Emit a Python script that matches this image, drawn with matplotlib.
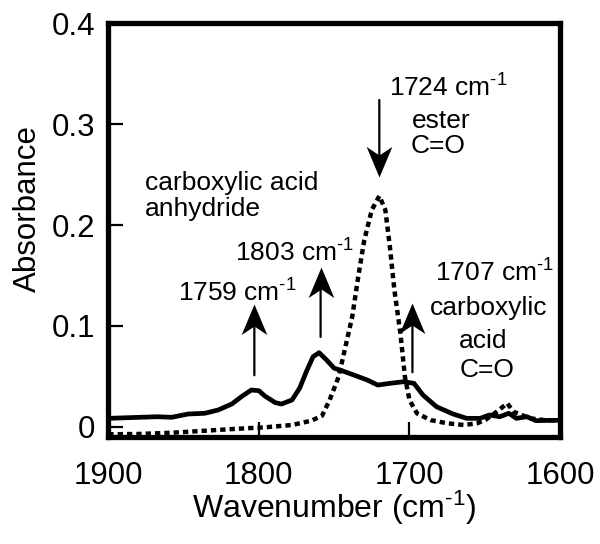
import matplotlib
matplotlib.use("Agg")
import matplotlib.pyplot as plt
import numpy as np
from matplotlib.path import Path

plt.rcParams["font.family"] = ["Liberation Sans", "DejaVu Sans"]
plt.rcParams["mathtext.fontset"] = "custom"
plt.rcParams["mathtext.rm"] = "Liberation Sans"
plt.rcParams["mathtext.it"] = "Liberation Sans:italic"
plt.rcParams["mathtext.bf"] = "Liberation Sans:bold"

# solid spectrum (wavenumber, absorbance)
solid_wn = [1900, 1880, 1867, 1858, 1847, 1836, 1827, 1818, 1811, 1805, 1800,
            1796, 1789, 1785, 1778, 1773, 1768, 1764, 1760, 1755, 1750, 1746,
            1737, 1728, 1721, 1713, 1704, 1697, 1691, 1682, 1671, 1662, 1653,
            1647, 1640, 1634, 1629, 1622, 1616, 1607, 1600]
solid_abs = [0.0083, 0.0093, 0.0099, 0.0093, 0.0126, 0.0133, 0.0166, 0.0225,
             0.0304, 0.0364, 0.0357, 0.0304, 0.0238, 0.0225, 0.0265, 0.0380,
             0.0562, 0.0694, 0.0734, 0.0661, 0.0580, 0.0562, 0.0513, 0.0463,
             0.0413, 0.0430, 0.0446, 0.0430, 0.0314, 0.0198, 0.0126, 0.0083,
             0.0083, 0.0116, 0.0099, 0.0133, 0.0083, 0.0099, 0.0060, 0.0063,
             0.0063]

# dashed spectrum
dash_wn = [1900, 1880, 1858, 1836, 1814, 1796, 1778, 1765, 1758, 1753, 1747,
           1743, 1738, 1734, 1730, 1725, 1720, 1716, 1713, 1710, 1706, 1703,
           1700, 1695, 1686, 1675, 1664, 1655, 1649, 1642, 1635, 1631, 1627,
           1620, 1610, 1600]
dash_abs = [-0.0075, -0.0072, -0.0060, -0.0040, -0.0020, -0.0006, 0.0017,
            0.0060, 0.0110, 0.0265, 0.0496, 0.0760, 0.1090, 0.1487, 0.1850,
            0.2149, 0.2288, 0.2149, 0.1785, 0.1356, 0.0926, 0.0496, 0.0265,
            0.0133, 0.0066, 0.0034, 0.0017, 0.0034, 0.0073, 0.0149, 0.0232,
            0.0149, 0.0126, 0.0083, 0.0065, 0.0063]

# arrows: x, tail y, tip y
arrow_x = [1803, 1759, 1720, 1698]
arrow_tail = [0.051, 0.089, 0.324, 0.054]
arrow_tip = [0.122, 0.158, 0.248, 0.123]

SUP = r"$^{\text{-1}}$"

# annotation text: label, x, baseline y, alignment
notes = [
    ("1724 cm" + SUP, 1713.3, 0.327, "left"),
    ("ester", 1698.5, 0.296, "left"),
    ("C=O", 1699.0, 0.271, "left"),
    ("carboxylic acid", 1875.6, 0.2347, "left"),
    ("anhydride", 1875.6, 0.2089, "left"),
    ("1803 cm" + SUP, 1815.9, 0.1636, "left"),
    ("1759 cm" + SUP, 1854.0, 0.1240, "left"),
    ("1707 cm" + SUP, 1683.0, 0.1438, "left"),
    ("carboxylic", 1647.6, 0.1105, "center"),
    ("acid", 1650.9, 0.0777, "center"),
    ("C=O", 1648.3, 0.0496, "center"),
]

x_ticks = [1900, 1800, 1700, 1600]
y_ticks = [0, 0.1, 0.2, 0.3, 0.4]
y_tick_labels = ["0", "0.1", "0.2", "0.3", "0.4"]


def head_marker(up=True):
    # stealth-like arrow head with the tip at the origin
    s = 1.0 if up else -1.0
    verts = [(0, 0), (0.42, -s), (0, -0.72 * s), (-0.42, -s), (0, 0)]
    codes = [Path.MOVETO, Path.LINETO, Path.LINETO, Path.LINETO, Path.CLOSEPOLY]
    return Path(verts, codes)


fig = plt.figure(figsize=(6.0, 5.44), dpi=100)
ax = fig.add_axes([108.3 / 600, (544 - 437) / 544, (560 - 108.3) / 600, (437 - 23.3) / 544])

ax.plot(solid_wn, solid_abs, color="black", lw=3.4, solid_joinstyle="round")
ax.plot(dash_wn, dash_abs, color="black", lw=3.2, linestyle=(0, (1.2, 0.9)))

for x, y0, y1 in zip(arrow_x, arrow_tail, arrow_tip):
    ax.annotate("", xy=(x, y1), xytext=(x, y0),
                arrowprops=dict(arrowstyle="-", lw=1.6, color="black",
                                shrinkA=0, shrinkB=10))
    ax.plot([x], [y1], marker=head_marker(y1 > y0), markersize=44,
            color="black", markeredgewidth=0, linestyle="none")

for label, x, y, ha in notes:
    ax.text(x, y, label, ha=ha, va="baseline", fontsize=19)

ax.set_xlim(1900, 1600)
ax.set_ylim(-0.0102, 0.4)
ax.set_xticks(x_ticks)
ax.set_xticklabels([str(t) for t in x_ticks])
ax.set_yticks(y_ticks)
ax.set_yticklabels(y_tick_labels)

for sp in ax.spines.values():
    sp.set_linewidth(3.8)

ax.tick_params(direction="in", length=11, width=1.6, top=False, right=False,
               labelsize=22.5)
ax.tick_params(axis="x", pad=17)
ax.tick_params(axis="y", pad=9.5)

ax.set_ylabel("Absorbance", fontsize=22.5)
ax.yaxis.set_label_coords(-0.145, 0.552)
ax.set_xlabel("Wavenumber (cm" + SUP + ")", fontsize=23, va="top")
ax.xaxis.set_label_coords(0.5, -0.125)

fig.savefig("out.png", dpi=100)
